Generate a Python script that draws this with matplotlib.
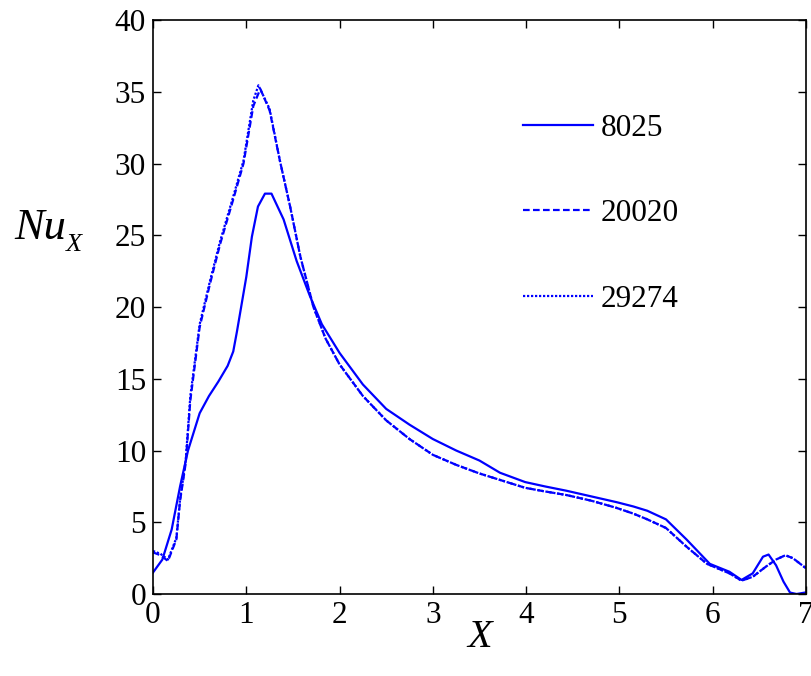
import numpy as np
import matplotlib
matplotlib.use('Agg')
import matplotlib.pyplot as plt

# Re=8025
x1 = [0.0, 0.1, 0.2, 0.29, 0.375, 0.5, 0.6, 0.7, 0.8, 0.86, 0.9, 1.0, 1.06, 1.125, 1.2, 1.27,
      1.4, 1.54, 1.68, 1.81, 2.0, 2.25, 2.5, 2.75, 3.0, 3.25, 3.5, 3.72, 3.99, 4.2, 4.43, 4.7,
      4.97, 5.15, 5.3, 5.5, 5.72, 5.97, 6.18, 6.31, 6.43, 6.54, 6.6, 6.68, 6.76, 6.83, 6.9, 6.99]
nu1 = [1.5, 2.4, 4.5, 7.5, 10.0, 12.6, 13.8, 14.8, 15.9, 16.9, 18.3, 22.1, 24.9, 27.0, 27.9, 27.9,
       26.1, 23.2, 20.8, 18.8, 16.8, 14.6, 12.9, 11.8, 10.8, 10.0, 9.3, 8.45, 7.8, 7.5, 7.2, 6.8,
       6.4, 6.1, 5.8, 5.2, 3.8, 2.1, 1.55, 0.98, 1.44, 2.6, 2.75, 2.0, 0.86, 0.1, 0.0, 0.1]

# Re=20020
x2 = [0.0, 0.08, 0.16, 0.25, 0.29, 0.35, 0.4, 0.5, 0.61, 0.72, 0.86, 0.97, 1.075, 1.15, 1.25,
      1.36, 1.47, 1.58, 1.72, 1.85, 2.0, 2.25, 2.5, 2.75, 3.0, 3.25, 3.5, 3.72, 3.99, 4.2, 4.43,
      4.7, 4.97, 5.15, 5.3, 5.5, 5.72, 5.94, 6.18, 6.31, 6.43, 6.57, 6.68, 6.78, 6.86, 7.0]
nu2 = [2.9, 2.7, 2.3, 3.8, 6.5, 9.1, 13.5, 18.6, 21.6, 24.4, 27.5, 30.0, 34.0, 35.2, 33.7,
       30.2, 27.0, 23.5, 20.0, 17.8, 16.0, 13.8, 12.1, 10.8, 9.7, 9.0, 8.4, 7.95, 7.4, 7.15, 6.9,
       6.5, 6.0, 5.6, 5.2, 4.6, 3.3, 2.1, 1.44, 0.93, 1.2, 1.9, 2.4, 2.7, 2.5, 1.8]

# Re=29274
x3 = [0.0, 0.08, 0.16, 0.25, 0.29, 0.35, 0.4, 0.5, 0.61, 0.72, 0.86, 0.97, 1.075, 1.13, 1.25,
      1.36, 1.47, 1.58, 1.72, 1.85, 2.0, 2.25, 2.5, 2.75, 3.0, 3.25, 3.5, 3.72, 3.99, 4.2, 4.43,
      4.7, 4.97, 5.15, 5.3, 5.5, 5.72, 5.94, 6.18, 6.31, 6.43, 6.57, 6.68, 6.78, 6.86, 7.0]
nu3 = [3.0, 2.8, 2.4, 3.9, 6.6, 9.3, 13.8, 18.8, 21.8, 24.6, 27.7, 30.2, 34.4, 35.45, 33.8,
       30.2, 27.0, 23.5, 20.0, 17.8, 16.0, 13.8, 12.1, 10.8, 9.7, 9.0, 8.4, 7.95, 7.4, 7.15, 6.9,
       6.5, 6.0, 5.6, 5.2, 4.6, 3.3, 2.1, 1.44, 0.93, 1.2, 1.9, 2.4, 2.7, 2.5, 1.8]

labels = ['8025', '20020', '29274']

plt.rcParams['font.family'] = 'Liberation Serif'

fig = plt.figure(figsize=(8.11, 6.76), dpi=100)
ax = fig.add_axes([0.1887, 0.1213, 0.805, 0.8491])

ax.plot(x1, nu1, '-', color='#0000ff', lw=1.6, label=labels[0])
ax.plot(x2, nu2, '--', color='#0000ff', lw=1.6, dashes=(3, 1.5), label=labels[1])
ax.plot(x3, nu3, ':', color='#0000ff', lw=1.6, dashes=(1, 0.8), label=labels[2])

ax.set_xlim(0, 7)
ax.set_ylim(0, 40)
ax.set_xticks(range(0, 8))
ax.set_yticks(range(0, 41, 5))
ax.tick_params(direction='in', top=True, right=True, labelsize=22.5, length=6, width=1, pad=5)
for s in ax.spines.values():
    s.set_linewidth(1.2)

ax.set_xlabel('X', fontsize=29, style='italic', labelpad=-8)
# y label: Nu with a smaller subscript X
fig.text(0.018, 0.662, 'Nu', fontsize=32, style='italic', ha='left', va='center')
fig.text(0.081, 0.638, 'X', fontsize=19, style='italic', ha='left', va='center')

ax.legend(frameon=False, fontsize=22.5, loc='upper left', bbox_to_anchor=(0.523, 0.885),
          handlelength=2.25, labelspacing=1.8, handletextpad=0.25)

fig.savefig('out.png', dpi=100)
